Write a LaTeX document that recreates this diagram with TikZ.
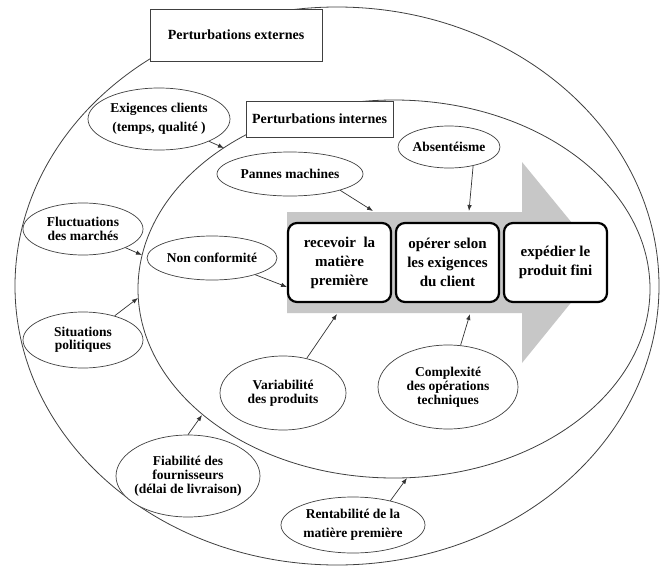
\documentclass[tikz,border=0pt]{standalone}
\usepackage{fontspec}
\setmainfont{Liberation Serif}
\usetikzlibrary{shapes.geometric,arrows.meta}
\begin{document}
\begin{tikzpicture}[x=1pt,y=-1pt,
  ell/.style={ellipse, draw=black!75, line width=0.7pt, fill=white, inner sep=0pt},
  etxt/.style={inner sep=0pt, align=center, font=\fontsize{13.5}{14}\selectfont\bfseries},
  stagebox/.style={rectangle, rounded corners=9pt, draw=black, line width=2.2pt, fill=white,
     minimum width=103pt, minimum height=79pt, inner sep=0pt, align=center,
     font=\fontsize{15}{19}\selectfont\bfseries},
  labbox/.style={rectangle, draw=black!75, line width=0.8pt, fill=white, inner sep=0pt,
     font=\fontsize{14}{16}\selectfont\bfseries},
  arr/.style={draw=black!80, line width=0.7pt, -{Latex[length=6pt,width=4.5pt]}},
  ring/.style={draw=black!75, line width=0.8pt}
]
\useasboundingbox (0,0) rectangle (665,568);
\fill[white] (0,0) rectangle (665,568);

% rings
\draw[ring] (337,286) ellipse [x radius=322pt, y radius=279pt];
\draw[ring] (394,289) ellipse [x radius=256pt, y radius=189pt];

% labels of rings
\node[labbox, minimum width=172pt, minimum height=52pt] (ext) at (236,35) {Perturbations externes};
\node[labbox, minimum width=147pt, minimum height=36pt] (int) at (319.5,119) {Perturbations internes};

% grey process arrow
\fill[black!22] (287,212) -- (522,212) -- (522,162) -- (604,262) -- (522,363) -- (522,313) -- (287,313) -- cycle;

% stages
\node[stagebox] (s1) at (339.5,262.5) {recevoir\ \ la\\matière\\première};
\node[stagebox] (s2) at (447.5,262.5) {opérer selon\\les exigences\\du client};
\node[stagebox] (s3) at (555.5,262.5) {expédier le\\produit fini};

% external perturbations
\node[ell, minimum width=142pt, minimum height=62pt] (exi) at (159,119) {};
\node[etxt, font=\fontsize{13.5}{19}\selectfont\bfseries] (exit) at (exi) {Exigences clients\\(temps, qualité )};
\node[ell, minimum width=120pt, minimum height=52pt] (flu) at (83,229) {};
\node[etxt] (flut) at (flu) {Fluctuations\\des marchés};
\node[ell, minimum width=120pt, minimum height=56pt] (sit) at (83,340) {};
\node[etxt, font=\fontsize{13.5}{13}\selectfont\bfseries] (sitt) at (sit) {Situations\\politiques};
\node[ell, minimum width=144pt, minimum height=82pt] (fia) at (188,476) {};
\node[etxt] (fiat) at (fia) {Fiabilité des\\fournisseurs\\(délai de livraison)};
\node[ell, minimum width=144pt, minimum height=56pt] (ren) at (353,525) {};
\node[etxt, font=\fontsize{13.5}{19}\selectfont\bfseries] (rent) at (ren) {Rentabilité de la\\matière première};

% internal perturbations
\node[ell, minimum width=146pt, minimum height=44pt] (pan) at (290,174) {};
\node[etxt] (pant) at (pan) {Pannes machines};
\node[ell, minimum width=102pt, minimum height=42pt] (abs) at (449,147) {};
\node[etxt] (abst) at (abs) {Absentéisme};
\node[ell, minimum width=130pt, minimum height=44pt] (non) at (212,258) {};
\node[etxt] (nont) at (non) {Non conformité};
\node[ell, minimum width=126pt, minimum height=74pt] (var) at (283,393) {};
\node[etxt] (vart) at (var) {Variabilité\\des produits};
\node[ell, minimum width=140pt, minimum height=84pt] (com) at (448,387) {};
\node[etxt] (comt) at (com) {Complexité\\des opérations\\techniques};

% arrow end points
\coordinate (eExi) at (224,148);
\coordinate (eFlu) at (142,255);
\coordinate (eSit) at (138,298);
\coordinate (eFia) at (202,415);
\coordinate (eRen) at (407,478);
\coordinate (ePan) at (373,211);
\coordinate (eAbs) at (469,211);
\coordinate (eNon) at (287,287);
\coordinate (eVar) at (337,314);
\coordinate (eCom) at (470,314);

\draw[arr] (exi) -- (eExi);
\draw[arr] (flu) -- (eFlu);
\draw[arr] (sit) -- (eSit);
\draw[arr] (fia.north) -- (eFia);
\draw[arr] (ren.33) -- (eRen);
\draw[arr] (pan.-18) -- (ePan);
\draw[arr] (abs.-38) -- (eAbs);
\draw[arr] (non) -- (eNon);
\draw[arr] (var) -- (eVar);
\draw[arr] (com) -- (eCom);
\end{tikzpicture}
\end{document}
